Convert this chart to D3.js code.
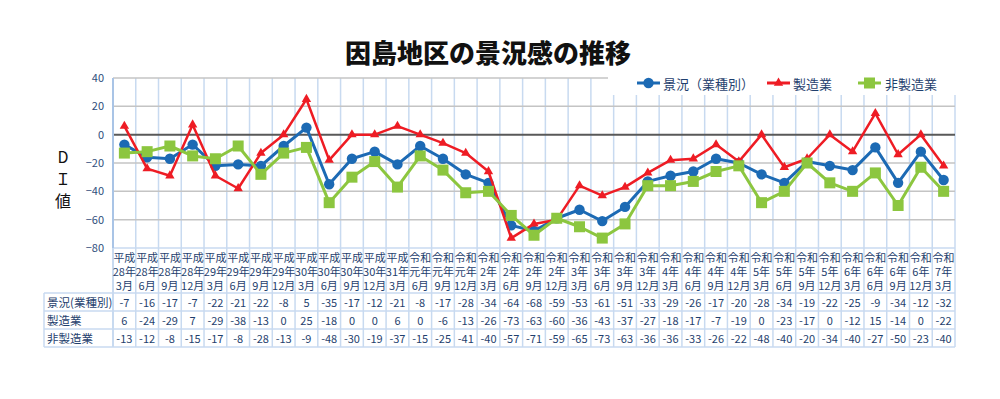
<!DOCTYPE html>
<html><head><meta charset="utf-8">
<script src="https://cdn.jsdelivr.net/npm/d3@7"></script>
<style>body{margin:0;background:#fff}svg{display:block}text{font-family:"Noto Sans CJK JP","Noto Sans",sans-serif}</style>
</head><body><svg id="c" width="1000" height="399"></svg>
<script>
const eras = ["平成","平成","平成","平成","平成","平成","平成","平成","平成","平成","平成","平成","平成","令和","令和","令和","令和","令和","令和","令和","令和","令和","令和","令和","令和","令和","令和","令和","令和","令和","令和","令和","令和","令和","令和","令和","令和"];
const years = ["28年","28年","28年","28年","29年","29年","29年","29年","30年","30年","30年","30年","31年","元年","元年","元年","2年","2年","2年","2年","3年","3年","3年","3年","4年","4年","4年","4年","5年","5年","5年","5年","6年","6年","6年","6年","7年"];
const months = ["3月","6月","9月","12月","3月","6月","9月","12月","3月","6月","9月","12月","3月","6月","9月","12月","3月","6月","9月","12月","3月","6月","9月","12月","3月","6月","9月","12月","3月","6月","9月","12月","3月","6月","9月","12月","3月"];
const keikyo = [-7,-16,-17,-7,-22,-21,-22,-8,5,-35,-17,-12,-21,-8,-17,-28,-34,-64,-68,-59,-53,-61,-51,-33,-29,-26,-17,-20,-28,-34,-19,-22,-25,-9,-34,-12,-32];
const seizo = [6,-24,-29,7,-29,-38,-13,0,25,-18,0,0,6,0,-6,-13,-26,-73,-63,-60,-36,-43,-37,-27,-18,-17,-7,-19,0,-23,-17,0,-12,15,-14,0,-22];
const hiseizo = [-13,-12,-8,-15,-17,-8,-28,-13,-9,-48,-30,-19,-37,-15,-25,-41,-40,-57,-71,-59,-65,-73,-63,-36,-36,-33,-26,-22,-48,-40,-20,-34,-40,-27,-50,-23,-40];
const yTicks = [40,20,0,-20,-40,-60,-80];
const seriesNames = ["景況（業種別）","製造業","非製造業"];
const rowNames = ["景況(業種別)","製造業","非製造業"];

const svg = d3.select("#c");
const L=113, R=955, T=78, B=248;
const idx = d3.range(keikyo.length);
const x = d3.scaleBand().domain(idx).range([L,R]);
const y = d3.scaleLinear().domain([-80,40]).range([B,T]);
const cx = i => x(i)+x.bandwidth()/2;
const navy = "#1f3f6e";
const legendX = 608, legendB = 95;

svg.append("text").attr("x",488).attr("y",51).attr("text-anchor","middle").attr("dominant-baseline","central")
  .attr("font-size",26).attr("font-weight",900).attr("fill","#111").text("因島地区の景況感の推移");

const rowTop = 293, rowH = 18;
idx.concat([keikyo.length]).forEach(i=>{
  const xx = i<keikyo.length ? x(i) : R;
  const top = xx>legendX ? legendB : T;
  svg.append("line").attr("x1",xx).attr("x2",xx).attr("y1",top).attr("y2",rowTop+3*rowH)
    .attr("stroke","#c8daf0").attr("stroke-width",i===0?2:1.5);
});
yTicks.forEach(t=>{
  const x2 = (t===40) ? legendX : R;
  svg.append("line").attr("x1",L).attr("x2",x2).attr("y1",y(t)).attr("y2",y(t))
    .attr("stroke", t===0 ? "#595959" : (t===-80 ? "#c8daf0" : "#c4c4c4")).attr("stroke-width", t===0?2:1.5);
});
svg.append("line").attr("x1",L).attr("x2",L).attr("y1",T).attr("y2",B).attr("stroke","#a9c4e6").attr("stroke-width",2);

const yAxis = svg.append("g").attr("transform",`translate(${L},0)`)
  .call(d3.axisLeft(y).tickValues(yTicks).tickSize(0).tickPadding(9));
yAxis.select(".domain").remove();
yAxis.selectAll("text").attr("fill","#2e4d7b").attr("font-size",11)
  .attr("font-family",'"Noto Sans","DejaVu Sans",sans-serif');

[["D",156],["Ｉ",178],["値",200]].forEach(([s,yy])=>{
  svg.append("text").attr("x",63).attr("y",yy).attr("text-anchor","middle").attr("dominant-baseline","central")
    .attr("font-size",16).attr("fill","#111").text(s);
});

[rowTop,rowTop+rowH,rowTop+2*rowH,rowTop+3*rowH].forEach(yy=>{
  svg.append("line").attr("x1",44).attr("x2",R).attr("y1",yy).attr("y2",yy).attr("stroke","#c8daf0").attr("stroke-width",1.5);
});
svg.append("line").attr("x1",44).attr("x2",44).attr("y1",rowTop).attr("y2",rowTop+3*rowH).attr("stroke","#c8daf0").attr("stroke-width",1.5);

const hdr = svg.append("g").attr("fill",navy).attr("font-size",11).attr("text-anchor","middle");
idx.forEach(i=>{
  [[eras[i],257],[years[i],271],[months[i],285]].forEach(([s,yy])=>{
    hdr.append("text").attr("x",cx(i)).attr("y",yy).attr("dominant-baseline","central").text(s);
  });
});
const rows = [keikyo,seizo,hiseizo];
rows.forEach((arr,r)=>{
  const yy = rowTop + r*rowH + rowH/2;
  svg.append("text").attr("x",47).attr("y",yy).attr("dominant-baseline","central")
    .attr("font-size",11.5).attr("fill",navy).text(rowNames[r]);
  arr.forEach((v,i)=>{
    svg.append("text").attr("x",cx(i)).attr("y",yy).attr("dominant-baseline","central").attr("text-anchor","middle")
      .attr("font-size",11).attr("fill",navy).text(v);
  });
});

const colors = ["#1c6ab4","#ee1c24","#8cc63f"];
const line = d3.line().x((d,i)=>cx(i)).y(d=>y(d));
function marker(g,type,px,py,c){
  if(type===0) g.append("circle").attr("cx",px).attr("cy",py).attr("r",5.2).attr("fill",c);
  else if(type===1) g.append("path").attr("d",d3.symbol(d3.symbolTriangle,38)()).attr("transform",`translate(${px},${py})`).attr("fill",c);
  else g.append("rect").attr("x",px-5.5).attr("y",py-5.5).attr("width",11).attr("height",11).attr("fill",c);
}
rows.forEach((arr,s)=>{
  const g = svg.append("g");
  g.append("path").datum(arr).attr("d",line).attr("fill","none").attr("stroke",colors[s]).attr("stroke-width",s===1?2.5:3).attr("stroke-linejoin","round");
  arr.forEach((v,i)=>marker(g,s,cx(i),y(v),colors[s]));
});

const lg = [[637,663],[767,793],[858,885]];
lg.forEach(([lx,tx],s)=>{
  svg.append("line").attr("x1",lx).attr("x2",lx+23).attr("y1",83).attr("y2",83).attr("stroke",colors[s]).attr("stroke-width",3);
  marker(svg,s,lx+11.5,83,colors[s]);
  svg.append("text").attr("x",tx).attr("y",83).attr("dominant-baseline","central").attr("font-size",13)
    .attr("fill",navy).text(seriesNames[s]);
});
</script></body></html>
